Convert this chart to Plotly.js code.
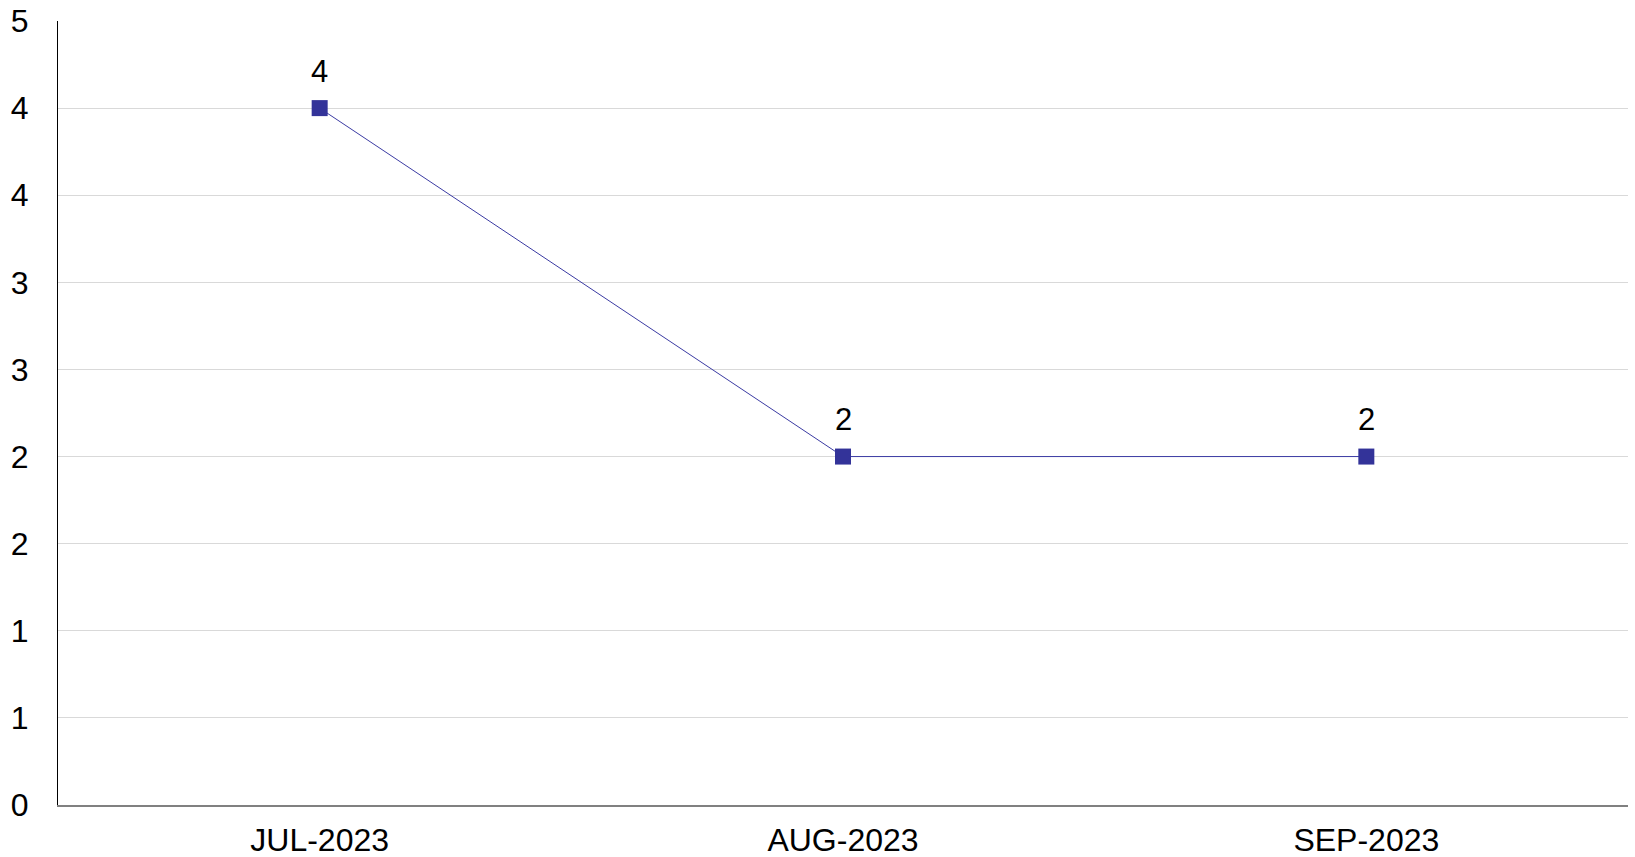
<!DOCTYPE html>
<html>
<head>
<meta charset="utf-8">
<script src="https://cdn.plot.ly/plotly-3.0.1.min.js"></script>
<style>html,body{margin:0;padding:0;background:#fff;}#chart{width:1635px;height:857px;}</style>
</head>
<body>
<div id="chart"></div>
<script>
const months = ['JUL-2023', 'AUG-2023', 'SEP-2023'];
const values = [4, 2, 2];
const yTickVals = [0, 0.5, 1, 1.5, 2, 2.5, 3, 3.5, 4, 4.5];
const yTickText = ['0', '1', '1', '2', '2', '3', '3', '4', '4', '5'];

const FONT = 'Liberation Sans, Arial, sans-serif';

const trace = {
  x: months,
  y: values,
  type: 'scatter',
  mode: 'lines+markers',
  line: {color: '#3b3ba3', width: 1},
  marker: {symbol: 'square', size: 16, color: '#333399'},
  cliponaxis: false,
  hoverinfo: 'x+y'
};

const annotations = months.map((m, i) => ({
  x: m,
  y: values[i],
  xref: 'x',
  yref: 'y',
  text: String(values[i]),
  showarrow: false,
  xanchor: 'center',
  yanchor: 'middle',
  yshift: 37,
  font: {family: FONT, size: 31, color: '#000'}
}));

const layout = {
  width: 1635,
  height: 857,
  margin: {l: 58, r: 7, t: 21, b: 52},
  paper_bgcolor: '#fff',
  plot_bgcolor: '#fff',
  showlegend: false,
  font: {family: FONT, size: 32, color: '#000'},
  annotations: annotations,
  xaxis: {
    type: 'category',
    range: [-0.5, 2.5],
    showgrid: false,
    showline: true,
    linecolor: '#808080',
    linewidth: 2,
    ticks: '',
    ticklabelstandoff: 6,
    tickfont: {size: 32},
    zeroline: false
  },
  yaxis: {
    range: [0, 4.5],
    tickvals: yTickVals,
    ticktext: yTickText,
    showgrid: true,
    gridcolor: '#d9d9d9',
    gridwidth: 1,
    showline: true,
    linecolor: '#000',
    linewidth: 1,
    ticks: '',
    ticklabelstandoff: 22,
    tickfont: {size: 32},
    zeroline: false
  }
};

Plotly.newPlot('chart', [trace], layout, {displayModeBar: false, staticPlot: true});
</script>
</body>
</html>
